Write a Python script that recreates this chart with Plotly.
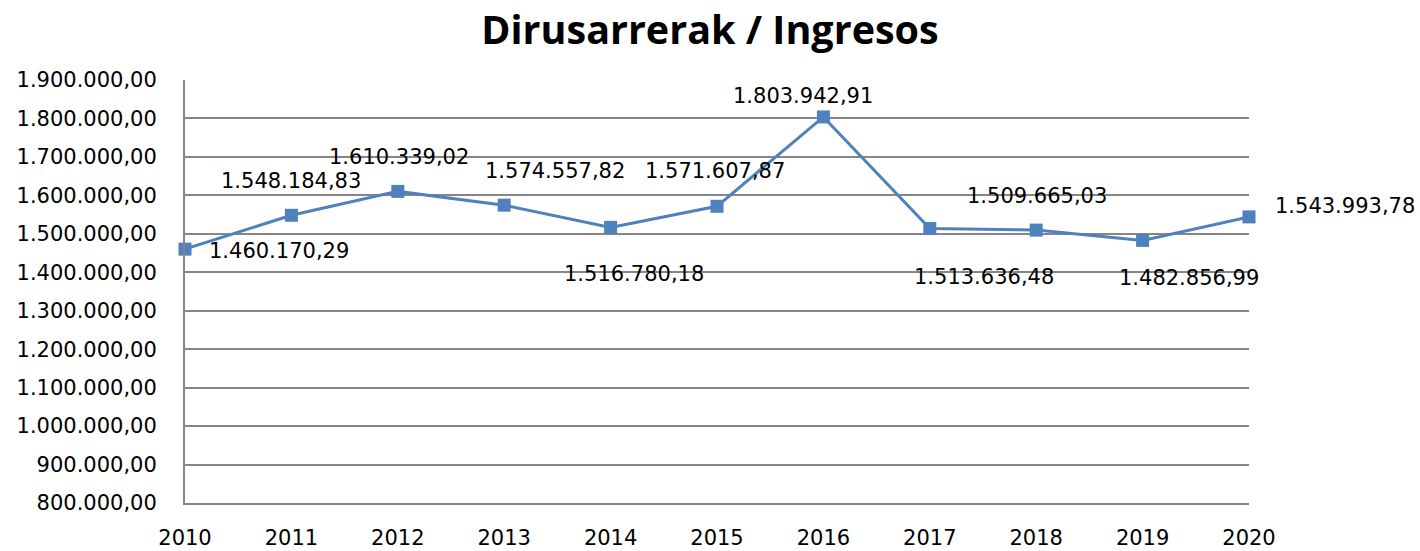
import plotly.graph_objects as go

years = ["2010", "2011", "2012", "2013", "2014", "2015", "2016", "2017", "2018", "2019", "2020"]
values = [1460170.29, 1548184.83, 1610339.02, 1574557.82, 1516780.18, 1571607.87,
          1803942.91, 1513636.48, 1509665.03, 1482856.99, 1543993.78]
labels = ["1.460.170,29", "1.548.184,83", "1.610.339,02", "1.574.557,82", "1.516.780,18",
          "1.571.607,87", "1.803.942,91", "1.513.636,48", "1.509.665,03", "1.482.856,99",
          "1.543.993,78"]
tick_vals = [800000, 900000, 1000000, 1100000, 1200000, 1300000, 1400000, 1500000,
             1600000, 1700000, 1800000, 1900000]
tick_text = ["800.000,00", "900.000,00", "1.000.000,00", "1.100.000,00", "1.200.000,00",
             "1.300.000,00", "1.400.000,00", "1.500.000,00", "1.600.000,00", "1.700.000,00",
             "1.800.000,00", "1.900.000,00"]

# label offsets (px) and anchors per point
shifts = [(22, -2, "left"), (0, 34, "center"), (1, 34, "center"), (51, 34, "center"),
          (23, -47, "center"), (-2, 35, "center"), (-20, 21, "center"), (54, -48, "center"),
          (1, 34, "center"), (46, -38, "center"), (24, 11, "left")]

FONT = "DejaVu Sans"
TFONT = "Open Sans"
fig = go.Figure()
fig.add_trace(go.Scatter(
    x=years, y=values, mode="lines+markers",
    line=dict(color="#4F81BD", width=3),
    marker=dict(symbol="square", size=13, color="#4F81BD"),
    showlegend=False, hoverinfo="skip", cliponaxis=False))

for i, (v, lab, (dx, dy, anc)) in enumerate(zip(values, labels, shifts)):
    fig.add_annotation(x=i, y=v, xref="x", yref="y", text=lab, showarrow=False,
                       xshift=dx, yshift=dy, xanchor=anc, yanchor="middle",
                       font=dict(family=FONT, size=21, color="#000000"))

fig.update_layout(
    width=1420, height=551,
    margin=dict(l=185, r=171, t=80, b=48),
    paper_bgcolor="white", plot_bgcolor="white",
    title=dict(text="<b>Dirusarrerak / Ingresos</b>", x=0.5, xanchor="center",
               y=0.945, yanchor="middle",
               font=dict(family=TFONT, size=39.5, color="#000000")),
    xaxis=dict(type="category", range=[0, 10], showgrid=False, showline=True,
               linecolor="#868686", linewidth=2, ticks="", ticklabelstandoff=15,
               automargin=False,
               tickfont=dict(family=FONT, size=21, color="#000000"), zeroline=False),
    yaxis=dict(range=[800000, 1900000], tickvals=tick_vals, ticktext=tick_text,
               showgrid=True, gridcolor="#868686", gridwidth=2, showline=True,
               linecolor="#868686", linewidth=2, ticks="", ticklabelstandoff=22,
               automargin=False,
               tickfont=dict(family=FONT, size=21, color="#000000"), zeroline=False),
)
fig.write_html("out.html", config={"displayModeBar": False},
               post_script="document.body.style.margin='0';document.body.style.overflow='hidden';")
